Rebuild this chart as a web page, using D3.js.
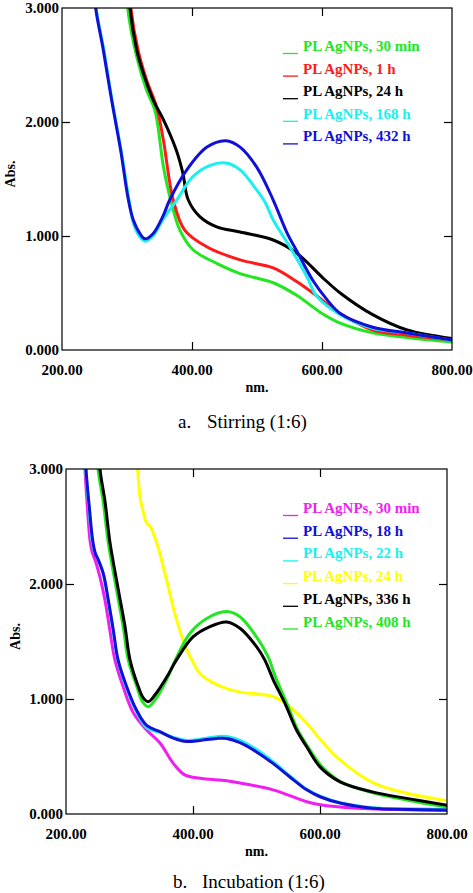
<!DOCTYPE html>
<html><head><meta charset="utf-8">
<script src="https://cdn.jsdelivr.net/npm/d3@7"></script>
<style>
html,body{margin:0;padding:0;background:#fff;}
svg{display:block;}
</style></head>
<body>
<svg id="chart" width="473" height="893"></svg>
<script>
// ---------- DATA ----------
const xTicks = [200, 400, 600, 800];
const yTicks = [0, 1, 2, 3];
const xTickLabels = ["200.00", "400.00", "600.00", "800.00"];
const yTickLabels = ["0.000", "1.000", "2.000", "3.000"];

// Panel a: Stirring (1:6)
const stirLabels = ["PL AgNPs, 30 min", "PL AgNPs, 1 h", "PL AgNPs, 24 h", "PL AgNPs, 168 h", "PL AgNPs, 432 h"];
const stirColors = ["#22e622", "#ff1a1a", "#000000", "#19f0f0", "#1010d8"];
const stirGreen = [[298,3.3],[301,3.0],[315,2.57],[330,2.28],[343,2.1],[356,1.61],[367,1.32],[381.5,1.05],[402,0.877],[438,0.76],[474,0.67],[525,0.59],[561,0.48],[600,0.32],[628,0.235],[678,0.15],[731,0.11],[800,0.07]];
const stirRed = [[303,3.3],[306,3.0],[317,2.63],[330,2.37],[345.6,2.13],[356,1.84],[371,1.32],[389,1.05],[422.6,0.906],[474,0.79],[525,0.72],[561,0.6],[600,0.44],[628,0.32],[678,0.175],[731,0.13],[800,0.088]];
const stirBlack = [[302,3.3],[304.6,3.0],[315,2.63],[325,2.43],[340.5,2.19],[356,2.02],[376,1.75],[386,1.55],[394,1.32],[412,1.17],[438,1.08],[474,1.035],[525,0.965],[561,0.85],[600,0.64],[628,0.5],[678,0.31],[731,0.175],[800,0.1]];
const stirCyan = [[249,3.3],[252.5,3.0],[264.5,2.63],[277,2.19],[291,1.75],[303,1.32],[310,1.11],[320,0.99],[328,0.955],[340,1.0],[356,1.15],[377,1.32],[401,1.52],[428,1.62],[452,1.64],[474,1.58],[500,1.40],[512,1.30],[525,1.14],[551,0.9],[577,0.64],[592,0.47],[628,0.31],[678,0.19],[731,0.15],[800,0.085]];
const stirBlue = [[248,3.3],[251.8,3.0],[263.6,2.63],[276.4,2.19],[290.3,1.75],[302,1.32],[309.7,1.14],[320,1.02],[327.7,0.975],[340,1.02],[355,1.17],[366,1.32],[392,1.58],[423,1.78],[452,1.836],[474,1.78],[500,1.6],[524.6,1.32],[546,1.03],[563,0.85],[586,0.61],[608,0.44],[628,0.32],[678,0.2],[731,0.15],[800,0.088]];
const stirSeries = [stirGreen, stirRed, stirBlack, stirCyan, stirBlue];

// Panel b: Incubation (1:6)
const incLabels = ["PL AgNPs, 30 min", "PL AgNPs, 18 h", "PL AgNPs, 22 h", "PL AgNPs, 24 h", "PL AgNPs, 336 h", "PL AgNPs, 408 h"];
const incColors = ["#f01ef0", "#1010d8", "#19f0f0", "#ffff00", "#000000", "#22e622"];
const incMagenta = [[228,3.3],[229.9,3.0],[233.6,2.67],[237.8,2.38],[241,2.28],[245.7,2.21],[249,2.15],[253.5,2.06],[261.4,1.86],[269,1.6],[277,1.34],[290,1.107],[306,0.88],[327,0.73],[348,0.617],[369,0.44],[387,0.34],[411,0.31],[453,0.29],[474,0.27],[526,0.21],[579,0.107],[600,0.08],[658,0.05],[720,0.04],[800,0.03]];
const incBlue = [[229.5,3.3],[231.5,3.0],[236.7,2.67],[242,2.38],[246,2.27],[250.8,2.21],[258.8,2.09],[266.6,1.86],[274.5,1.6],[282,1.34],[295.6,1.107],[311,0.904],[327,0.77],[348,0.716],[369,0.66],[390,0.63],[411,0.64],[437,0.657],[453,0.657],[474,0.62],[500,0.54],[526,0.44],[553,0.32],[579,0.21],[600,0.15],[631.5,0.095],[683,0.05],[740,0.04],[800,0.035]];
const incCyan = [[229,3.3],[231,3.0],[236,2.67],[241,2.38],[245,2.28],[250,2.22],[258,2.1],[266,1.87],[274,1.6],[281.5,1.34],[295,1.1],[311,0.89],[327,0.75],[348,0.71],[369,0.665],[390,0.64],[411,0.65],[437,0.672],[453,0.675],[474,0.64],[500,0.56],[526,0.455],[553,0.33],[579,0.215],[600,0.155],[631.5,0.098],[683,0.055],[740,0.045],[800,0.04]];
const incYellow = [[311,3.3],[312.9,3.0],[316.5,2.76],[322,2.62],[327,2.53],[333,2.5],[337.5,2.44],[345,2.32],[358.6,2.03],[374,1.69],[390,1.43],[400,1.32],[411,1.22],[432,1.14],[453,1.09],[474,1.06],[526.5,1.02],[553,0.93],[579,0.79],[605,0.62],[631.5,0.47],[684,0.27],[736.5,0.18],[800,0.116]];
const incBlack = [[251.5,3.3],[253.5,3.0],[261.4,2.72],[269.3,2.36],[282.4,1.95],[292.9,1.63],[300.8,1.34],[313.9,1.107],[321.7,1.01],[329.6,0.977],[340,1.035],[358.6,1.19],[374,1.34],[400,1.54],[426.8,1.63],[453,1.67],[474,1.615],[500,1.455],[513,1.34],[526.5,1.165],[545,0.96],[563,0.73],[579,0.585],[600,0.41],[631.5,0.28],[684,0.19],[736.5,0.136],[800,0.075]];
const incGreen = [[248.5,3.3],[250.5,3.0],[258.5,2.72],[266.5,2.36],[279.5,1.95],[290,1.63],[298,1.34],[312,1.1],[321,0.97],[329.6,0.933],[340,0.99],[358.6,1.17],[374,1.36],[395,1.57],[421.6,1.7],[453,1.76],[474,1.715],[500,1.54],[518,1.37],[530,1.19],[548,0.96],[565,0.73],[581,0.585],[602,0.42],[633,0.28],[686,0.18],[738,0.12],[800,0.06]];
const incSeries = [incMagenta, incBlue, incCyan, incYellow, incBlack, incGreen];
const incDrawOrder = [0, 2, 1, 3, 5, 4];

// ---------- DRAW ----------
const svg = d3.select("#chart");
const SERIF = "'Liberation Serif','Times New Roman',serif";

function panel(cfg) {
  const {left, top, width, height, series, colors, labels, order, legendX, legendY, legendStep, id, absX} = cfg;
  const x = d3.scaleLinear().domain([200, 800]).range([left, left + width]);
  const y = d3.scaleLinear().domain([0, 3]).range([top + height, top]);
  const g = svg.append("g");

  g.append("clipPath").attr("id", id).append("rect")
    .attr("x", left).attr("y", top).attr("width", width).attr("height", height);

  const line = d3.line().x(d => x(d[0])).y(d => y(d[1])).curve(d3.curveCatmullRom.alpha(0.5));
  const lines = g.append("g").attr("clip-path", `url(#${id})`);
  order.forEach(i => {
    lines.append("path").datum(series[i])
      .attr("d", line).attr("fill", "none")
      .attr("stroke", colors[i]).attr("stroke-width", 3)
      .attr("stroke-linejoin", "round").attr("stroke-linecap", "round");
  });

  // frame
  g.append("rect").attr("x", left).attr("y", top).attr("width", width).attr("height", height)
    .attr("fill", "none").attr("stroke", "#000").attr("stroke-width", 1.2);

  // axes with inward ticks
  const tl = 8;
  const innerX = xTicks.slice(1, -1);
  const innerY = yTicks.slice(1, -1);
  g.append("g").attr("transform", `translate(0,${top + height})`)
    .call(d3.axisBottom(x).tickValues(innerX).tickSize(-tl).tickFormat(""))
    .call(a => a.select(".domain").remove());
  g.append("g").attr("transform", `translate(0,${top})`)
    .call(d3.axisTop(x).tickValues(innerX).tickSize(-tl).tickFormat(""))
    .call(a => a.select(".domain").remove());
  g.append("g").attr("transform", `translate(${left},0)`)
    .call(d3.axisLeft(y).tickValues(innerY).tickSize(-tl).tickFormat(""))
    .call(a => a.select(".domain").remove());
  g.append("g").attr("transform", `translate(${left + width},0)`)
    .call(d3.axisRight(y).tickValues(innerY).tickSize(-tl).tickFormat(""))
    .call(a => a.select(".domain").remove());
  g.selectAll(".tick line").attr("stroke", "#000").attr("stroke-width", 1.2);

  // tick labels
  g.append("g").selectAll("text").data(xTicks).join("text")
    .attr("x", d => x(d)).attr("y", top + height + 25)
    .attr("text-anchor", "middle")
    .attr("font-family", SERIF).attr("font-weight", "bold").attr("font-size", 15)
    .text((d, i) => xTickLabels[i]);
  g.append("g").selectAll("text").data(yTicks).join("text")
    .attr("x", left - 3).attr("y", d => y(d) + 5)
    .attr("text-anchor", "end")
    .attr("font-family", SERIF).attr("font-weight", "bold").attr("font-size", 15)
    .text((d, i) => yTickLabels[i]);

  // axis titles
  g.append("text").attr("x", left + width / 2).attr("y", top + height + 42)
    .attr("text-anchor", "middle")
    .attr("font-family", SERIF).attr("font-weight", "bold").attr("font-size", 14)
    .text("nm.");
  g.append("text")
    .attr("transform", `translate(${absX},${top + height / 2 - 5}) rotate(-90)`)
    .attr("text-anchor", "middle")
    .attr("font-family", SERIF).attr("font-weight", "bold").attr("font-size", 14)
    .text("Abs.");

  // legend
  const lg = g.append("g");
  labels.forEach((lab, i) => {
    const yy = legendY + i * legendStep;
    lg.append("line").attr("x1", legendX).attr("x2", legendX + 15)
      .attr("y1", yy + 2.5).attr("y2", yy + 2.5)
      .attr("stroke", colors[i]).attr("stroke-width", 1.3);
    lg.append("text").attr("x", legendX + 20).attr("y", yy)
      .attr("font-family", SERIF).attr("font-weight", "bold").attr("font-size", 15)
      .attr("fill", colors[i]).text(lab);
  });
}

panel({id: "clipA", left: 62, top: 8, width: 390, height: 342, absX: 15,
  series: stirSeries, colors: stirColors, labels: stirLabels, order: [0,1,2,3,4],
  legendX: 283, legendY: 51, legendStep: 22.6});
panel({id: "clipB", left: 66, top: 469, width: 381, height: 345, absX: 20,
  series: incSeries, colors: incColors, labels: incLabels, order: incDrawOrder,
  legendX: 283, legendY: 513, legendStep: 22.7});

// captions
function caption(xa, xb, yy, a, b) {
  svg.append("text").attr("x", xa).attr("y", yy)
    .attr("font-family", SERIF).attr("font-size", 19).text(a);
  svg.append("text").attr("x", xb).attr("y", yy)
    .attr("font-family", SERIF).attr("font-size", 19).text(b);
}
caption(178, 207, 428, "a.", "Stirring (1:6)");
caption(173, 202, 888, "b.", "Incubation (1:6)");
</script>
</body></html>
